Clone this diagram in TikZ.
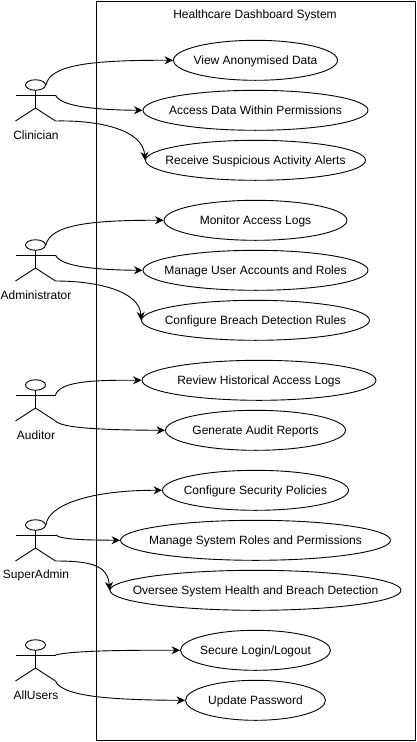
\documentclass[tikz,border=0pt]{standalone}
\usepackage{fontspec}
\setmainfont{Liberation Sans}
\usetikzlibrary{shapes.geometric,arrows.meta}
\tikzset{
  usecase/.style={draw,ellipse,inner sep=0pt,minimum height=40,font=\fontsize{12}{14}\selectfont},
  actorhead/.style={draw,ellipse,inner sep=0pt,minimum width=20,minimum height=10.5},
  actorlabel/.style={font=\fontsize{12}{14}\selectfont},
  assoc/.style={-{Stealth[length=8.5,width=8]}},
}
% one stick figure: name, x of the body, y of the head, label
\newcommand{\actorfig}[4]{
  \node[actorhead] (#1head) at (#2,#3) {};
  \coordinate (#1neck) at (#2,#3+5);
  \coordinate (#1hip) at (#2,#3+23);
  \coordinate (#1armL) at (#2-20,#3+10);
  \coordinate (#1armR) at (#2+20,#3+10);
  \coordinate (#1footL) at (#2-20,#3+36);
  \coordinate (#1footR) at (#2+20,#3+36);
  \draw (#1neck) -- (#1hip);
  \draw (#1armL) -- (#1armR);
  \draw (#1footL) -- (#1hip) -- (#1footR);
  \node[actorlabel] (#1label) at (#2+0.5,#3+50) {#4};
}
% one ellipse: name, width, x, y, text
\newcommand{\usecasenode}[5]{
  \node[usecase,minimum width=#2] (#1) at (#3,#4+0.3) {\raisebox{-4.5pt}[0pt][0pt]{\makebox[0pt]{#5}}};
}
\begin{document}
\begin{tikzpicture}[x=1pt,y=-1pt,line width=0.9pt]
\useasboundingbox (0,0) rectangle (417,742);
% system frame
\node[draw,line width=0.9pt,minimum width=319.5,minimum height=739.5,inner sep=0pt,anchor=north west] (frame) at (95.5,0.5) {};
\node[actorlabel,anchor=center] (title) at (255,15.8) {Healthcare Dashboard System};
% actors
\actorfig{clin}{35.5}{85}{Clinician}
\actorfig{admin}{35.5}{245}{Administrator}
\actorfig{aud}{35.5}{385}{Auditor}
\actorfig{super}{35.5}{525}{SuperAdmin}
\actorfig{all}{35.5}{645}{AllUsers}
% use cases
\usecasenode{view}{164}{255.5}{60}{View Anonymised Data}
\usecasenode{access}{225}{255.5}{110}{Access Data Within Permissions}
\usecasenode{alerts}{220}{255.5}{160}{Receive Suspicious Activity Alerts}
\usecasenode{monitor}{183}{255.5}{220}{Monitor Access Logs}
\usecasenode{accounts}{225}{255.5}{270}{Manage User Accounts and Roles}
\usecasenode{rules}{228}{255.5}{320}{Configure Breach Detection Rules}
\usecasenode{review}{234}{259}{380}{Review Historical Access Logs}
\usecasenode{reports}{180}{255.5}{430}{Generate Audit Reports}
\usecasenode{policies}{186}{255.5}{490}{Configure Security Policies}
\usecasenode{roles}{270}{255.5}{540}{Manage System Roles and Permissions}
\usecasenode{oversee}{291}{255.5}{590}{Oversee System Health and Breach Detection}
\usecasenode{login}{150}{255.5}{650}{Secure Login/Logout}
\usecasenode{password}{140}{255.5}{700}{Update Password}
% associations
\draw[assoc] (clinhead.east) .. controls (50,65) and (90,60) .. (view.west);
\draw[assoc] (clinarmR) .. controls (60,107) and (100,110) .. (access.west);
\draw[assoc] (clinfootR) .. controls (100,120) and (143,130) .. (alerts.west);
\draw[assoc] (adminhead.east) .. controls (50,225) and (90,220) .. (monitor.west);
\draw[assoc] (adminarmR) .. controls (60,267) and (100,270) .. (accounts.west);
\draw[assoc] (adminfootR) .. controls (100,281) and (140,292) .. (rules.west);
\draw[assoc] (audarmR) .. controls (60,381) and (95,380) .. (review.west);
\draw[assoc] (audfootR) .. controls (62,428) and (100,430) .. (reports.west);
\draw[assoc] (superhead.east) .. controls (48,505) and (90,490) .. (policies.west);
\draw[assoc] (superarmR) .. controls (62,540) and (90,540) .. (roles.west);
\draw[assoc] (superfootR) .. controls (90,561) and (108,565) .. (oversee.west);
\draw[assoc] (allarmR) .. controls (70,651) and (120,650) .. (login.west);
\draw[assoc] (allfootR) .. controls (62,695) and (100,700) .. (password.west);
\end{tikzpicture}
\end{document}
